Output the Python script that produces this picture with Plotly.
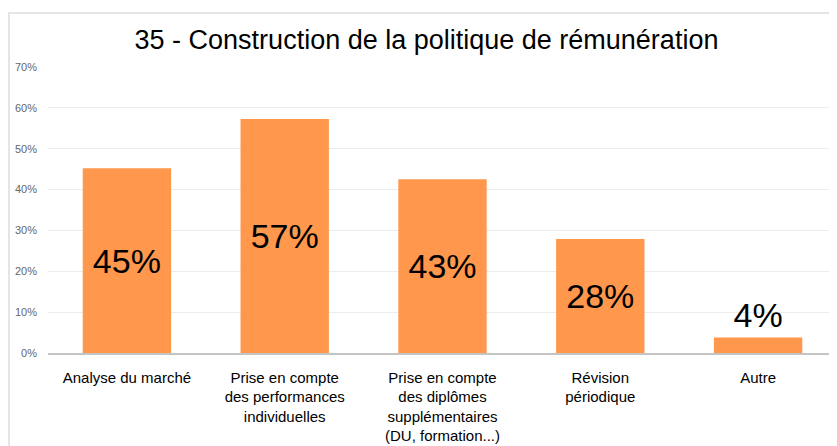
import plotly.graph_objects as go

categories = [
    "Analyse du marché",
    "Prise en compte<br>des performances<br>individuelles",
    "Prise en compte<br>des diplômes<br>supplémentaires<br>(DU, formation...)",
    "Révision<br>périodique",
    "Autre",
]
values = [45.2, 57.3, 42.5, 27.9, 3.8]
labels = ["45%", "57%", "43%", "28%", "4%"]
tick_vals = [0, 10, 20, 30, 40, 50, 60, 70]
tick_text = ["0%", "10%", "20%", "30%", "40%", "50%", "60%", "70%"]

FONT = "Liberation Sans, Arial, sans-serif"

fig = go.Figure(go.Bar(
    x=categories,
    y=values,
    text=labels,
    textposition="auto",
    insidetextanchor="middle",
    constraintext="none",
    textangle=0,
    cliponaxis=False,
    textfont=dict(size=34, color="black", family=FONT),
    marker=dict(color="#ff974d", line=dict(width=0)),
    hoverinfo="skip",
))

# the page body adds an 8px offset, margins compensate for it
fig.update_layout(
    width=837, height=446,
    margin=dict(l=40, r=8, t=59, b=101),
    plot_bgcolor="white",
    paper_bgcolor="white",
    bargap=0.44,
    showlegend=False,
    font=dict(family=FONT),
    title=dict(text="35 - Construction de la politique de rémunération",
               x=0.5, xanchor="center", y=1 - 32 / 446, yanchor="middle",
               font=dict(size=27, color="black", family=FONT)),
    shapes=[dict(type="rect", xref="paper", yref="paper",
                 x0=-39 / 789, x1=1.02, y0=-0.4, y1=(286 + 54) / 286,
                 line=dict(color="#dddddd", width=1.5), layer="below")],
)

fig.update_yaxes(range=[0, 70], tickvals=tick_vals, ticktext=tick_text,
                 showgrid=True, gridcolor="#ececec", gridwidth=1,
                 zeroline=False, showline=False, ticks="",
                 ticklabelstandoff=10, automargin=False,
                 tickfont=dict(size=11, color="#666666", family=FONT))
fig.update_xaxes(showline=True, linecolor="#c4c4c4", linewidth=1.5,
                 ticks="", showgrid=False, ticklabelstandoff=10,
                 automargin=False,
                 tickfont=dict(size=15, color="black", family=FONT))

fig.write_html("out.html")
